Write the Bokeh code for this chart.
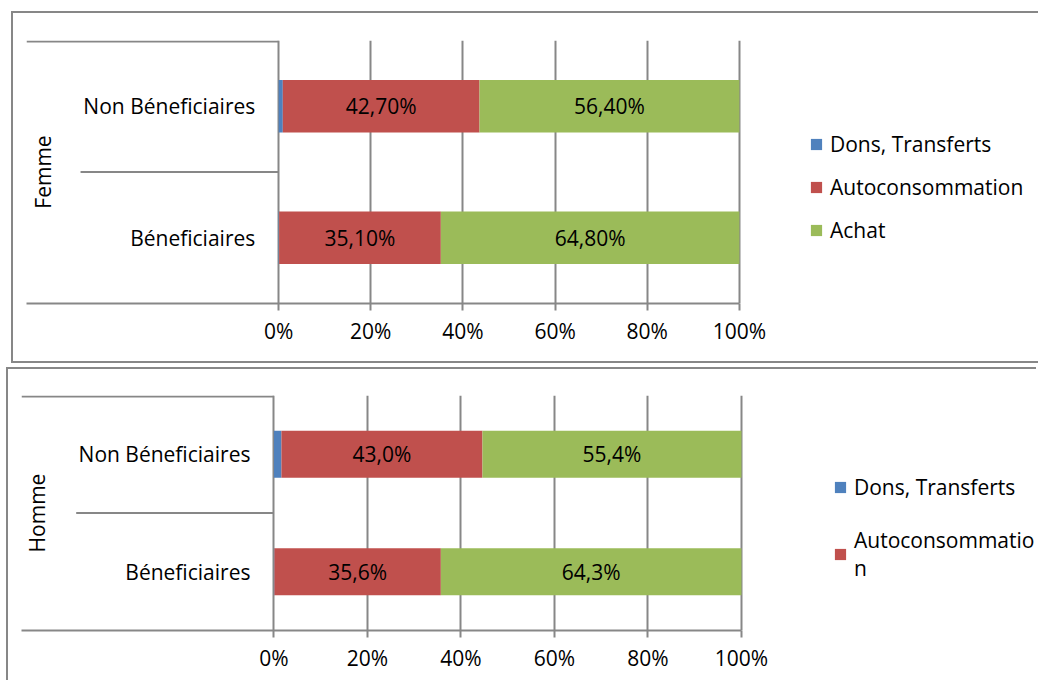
import numpy as np
from bokeh.plotting import figure
from bokeh.models import (ColumnDataSource, FactorRange, Range1d, FixedTicker,
                          CustomJSTickFormatter, Legend, LegendItem, Column)
from bokeh.core.properties import value
from bokeh.embed import file_html
from bokeh.resources import INLINE

# ---------------- data ----------------
categories = ["Béneficiaires", "Non Béneficiaires"]          # bottom -> top
series = ["Dons, Transferts", "Autoconsommation", "Achat"]
colors = ["#4F81BD", "#C0504D", "#9BBB59"]

femme_dons = [0.1, 0.9]
femme_auto = [35.1, 42.7]
femme_achat = [64.8, 56.4]

homme_dons = [0.1, 1.6]
homme_auto = [35.6, 43.0]
homme_achat = [64.3, 55.4]

x_ticks = [0, 20, 40, 60, 80, 100]

# ---------------- style ----------------
FONT = "Open Sans"
FSIZE = "21px"
GRAY = "#878787"


def fmt(v, d):
    return (f"{v:.{d}f}%").replace(".", ",")


def make_chart(group, dons, auto, achat, decimals, g, legend_labels, frame_style):
    p = figure(width=g["W"], height=g["H"], output_backend="svg", toolbar_location=None,
               x_range=Range1d(g["x_start"], g["x_end"]),
               y_range=FactorRange(factors=categories),
               y_axis_location=None,
               min_border_left=g["mbl"], min_border_top=g["mbt"],
               min_border_bottom=g["mbb"], min_border_right=0)
    p.outline_line_color = None
    p.background_fill_color = "white"
    p.border_fill_color = "white"
    p.styles = frame_style
    p.margin = g["margin"]

    src = ColumnDataSource(dict(cat=categories, dons=dons, auto=auto, achat=achat))
    rs = p.hbar_stack(["dons", "auto", "achat"], y="cat", height=0.4,
                      color=colors, line_color=None, source=src)

    # grid and axis
    p.ygrid.visible = False
    p.xgrid.ticker = FixedTicker(ticks=x_ticks)
    p.xgrid.grid_line_color = GRAY
    p.xgrid.grid_line_width = 2
    ax = p.xaxis[0]
    ax.ticker = FixedTicker(ticks=x_ticks)
    ax.formatter = CustomJSTickFormatter(code="return tick + '%';")
    ax.bounds = (g["x_start"], 100)
    ax.axis_line_color = GRAY
    ax.axis_line_width = 2
    ax.major_tick_line_color = GRAY
    ax.major_tick_line_width = 2
    ax.major_tick_out = 7
    ax.major_tick_in = 0
    ax.minor_tick_line_color = None
    ax.major_label_text_font = FONT
    ax.major_label_text_font_size = FSIZE
    ax.major_label_text_color = "black"
    ax.major_label_standoff = 6

    # separator lines in the category area
    top = categories[-1]
    p.segment(x0=[g["x_start"], g["sep_start"]], x1=[0, 0],
              y0=[(top, 0.492), (top, -0.5)], y1=[(top, 0.492), (top, -0.5)],
              line_color=GRAY, line_width=2)

    # category labels
    p.text(x=[0, 0], y=categories, text=categories, x_offset=g["lab_off"],
           text_align="right", text_baseline="middle",
           text_font=value(FONT), text_font_size=FSIZE, text_color="black")
    # group label
    p.text(x=[g["x_start"]], y=[(top, -0.5)], text=[group], x_offset=g["grp_off"],
           angle=np.pi / 2, text_align="center", text_baseline="middle",
           text_font=value(FONT), text_font_size=FSIZE, text_color="black")

    # data labels
    d = np.array(dons, float)
    a = np.array(auto, float)
    b = np.array(achat, float)
    lx = list(d + a / 2) + list(d + a + b / 2)
    ly = categories + categories
    lt = [fmt(v, decimals) for v in list(a) + list(b)]
    p.text(x=lx, y=ly, text=lt, text_align="center", text_baseline="middle",
           text_font=value(FONT), text_font_size=FSIZE, text_color="black")

    items = [LegendItem(label=lab, renderers=[rs[i]]) for i, lab in enumerate(legend_labels)]
    leg = Legend(items=items, location=g["leg_loc"], orientation="vertical")
    leg.label_text_font = FONT
    leg.label_text_font_size = FSIZE
    leg.label_text_color = "black"
    leg.glyph_width = 14
    leg.glyph_height = 14
    leg.label_standoff = 7
    leg.spacing = g["leg_sp"]
    leg.padding = 0
    leg.margin = 0
    leg.border_line_color = None
    leg.background_fill_alpha = 0
    p.add_layout(leg)
    return p


g_top = dict(W=1025, H=348, mbl=12, mbt=27, mbb=58, x_start=-54.73, x_end=164.92,
             sep_start=-43.0, lab_off=-23.4, grp_off=16.5, leg_loc=(783, 59), leg_sp=15,
             margin=(13, 0, 0, 13))
g_bot = dict(W=1030, H=313, mbl=13, mbt=26, mbb=52, x_start=-54.0, x_end=163.54,
             sep_start=-42.3, lab_off=-23.5, grp_off=15, leg_loc=(812, 48), leg_sp=25,
             margin=(8, 0, 0, 8))

p1 = make_chart("Femme", femme_dons, femme_auto, femme_achat, 2, g_top, series,
                {"outline": f"2px solid {GRAY}"})
p2 = make_chart("Homme", homme_dons, homme_auto, homme_achat, 1, g_bot,
                ["Dons, Transferts", "Autoconsommatio\nn"],
                {"box-shadow": f"-2px -2px 0 0 {GRAY}"})

layout = Column(children=[p1, p2], spacing=0)
open("out.html", "w").write(file_html(layout, INLINE))
